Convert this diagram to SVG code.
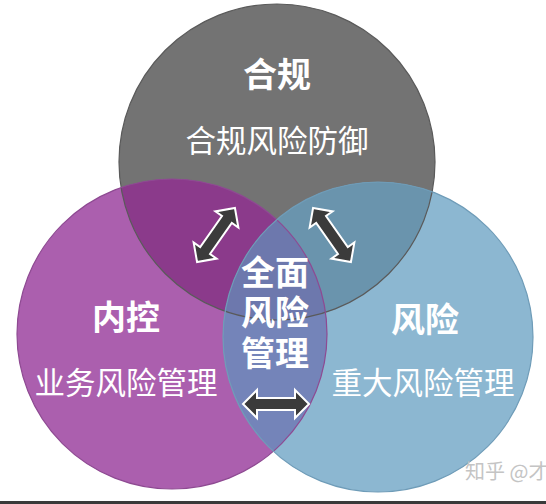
<svg xmlns="http://www.w3.org/2000/svg" width="546" height="504" viewBox="0 0 546 504">
<style>
.t{font-family:"Noto Sans CJK SC","Noto Sans",sans-serif;fill:#ffffff;text-anchor:middle;dominant-baseline:central}
.b{font-weight:bold;font-size:34px}
.n{font-size:30.5px}
.arr{fill:#3b3b3b;stroke:#ffffff;stroke-width:2;stroke-linejoin:miter}
</style>
<defs>
<clipPath id="cg"><circle cx="277" cy="162" r="158"/></clipPath>
<clipPath id="cp"><circle cx="172" cy="334" r="155"/></clipPath>
<clipPath id="cb"><circle cx="378" cy="337" r="155"/></clipPath>
<polygon id="dbl" points="-33,0 -19,-14 -19,-6 19,-6 19,-14 33,0 19,14 19,6 -19,6 -19,14"/>
</defs>
<rect width="546" height="504" fill="#ffffff"/>
<g id="circles">
<g id="gray"><circle cx="277" cy="162" r="158" fill="#737373"/></g>
<g id="purple"><circle cx="172" cy="334" r="155" fill="#ab5fae"/></g>
<g id="blue"><circle cx="378" cy="337" r="155" fill="#8cb7d1"/></g>
<g clip-path="url(#cg)"><circle cx="172" cy="334" r="155" fill="#8b3a8b"/></g>
<g clip-path="url(#cg)"><circle cx="378" cy="337" r="155" fill="#6a94ad"/></g>
<g clip-path="url(#cp)"><circle cx="378" cy="337" r="155" fill="#7484b9"/></g>
<g clip-path="url(#cg)"><g clip-path="url(#cp)"><circle cx="378" cy="337" r="155" fill="#6d78ad"/></g></g>
<circle cx="277" cy="162" r="158" fill="none" stroke="#5a5a5a" stroke-width="1.2"/>
<circle cx="172" cy="334" r="155" fill="none" stroke="#8e4a92" stroke-width="1.2"/>
<circle cx="378" cy="337" r="155" fill="none" stroke="#6f9cb8" stroke-width="1.2"/>
</g>
<g id="connectors">
<use href="#dbl" class="arr" transform="translate(216,235) rotate(-55)"/>
<use href="#dbl" class="arr" transform="translate(332,235) rotate(55)"/>
<use href="#dbl" class="arr" transform="translate(276,404)"/>
</g>
<g id="node-heguei">
<text class="t b" x="277" y="72">合规</text>
<text class="t n" x="277" y="139">合规风险防御</text>
</g>
<g id="node-neikong">
<text class="t b" x="126" y="315">内控</text>
<text class="t n" x="126" y="381">业务风险管理</text>
</g>
<g id="node-fengxian">
<text class="t b" x="425" y="317">风险</text>
<text class="t n" x="423" y="381">重大风险管理</text>
</g>
<g id="node-center">
<text class="t b" x="275" y="270"><tspan x="275" y="270">全面</tspan><tspan x="275" y="310">风险</tspan><tspan x="275" y="351">管理</tspan></text>
</g>
<text x="465" y="479" font-family="Noto Sans CJK SC,sans-serif" font-size="20" fill="#c4c4c4">知乎 @才</text>
<rect x="0" y="501" width="546" height="3" fill="#3a3a3a"/>
</svg>
